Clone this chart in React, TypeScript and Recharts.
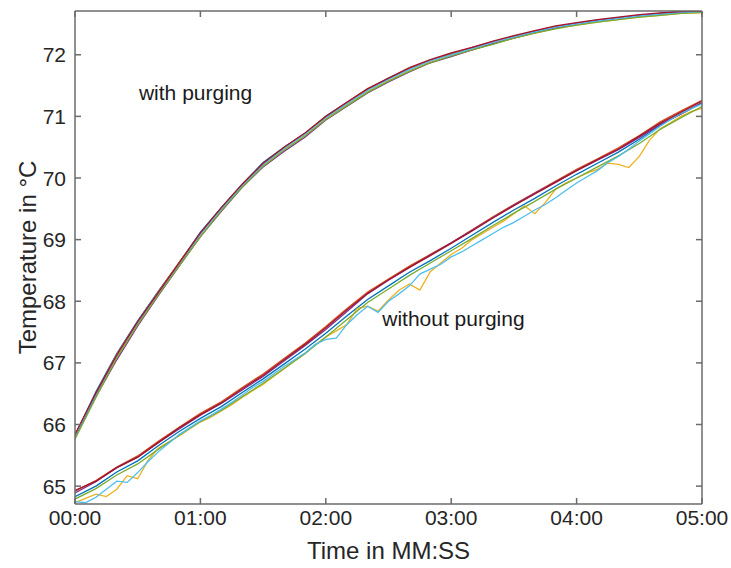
import { LineChart, Line, XAxis, YAxis, ReferenceDot, Label } from "recharts";

// time axis, seconds
const secs5 = [
  0, 5, 10, 15, 20, 25, 30, 35, 40, 45, 50, 55, 60, 65, 70, 75, 80, 85, 90, 95, 100,
  105, 110, 115, 120, 125, 130, 135, 140, 145, 150, 155, 160, 165, 170, 175, 180, 185, 190, 195, 200,
  205, 210, 215, 220, 225, 230, 235, 240, 245, 250, 255, 260, 265, 270, 275, 280, 285, 290, 295, 300,
];
const xTicks = [0, 60, 120, 180, 240, 300];
const yTicks = [65, 66, 67, 68, 69, 70, 71, 72];

// with purging, sampled every 10 s
const upBlue = [65.82, 66.53, 67.15, 67.68, 68.17, 68.63, 69.12, 69.52, 69.9, 70.25, 70.5, 70.72, 71.0, 71.22, 71.43, 71.62, 71.77, 71.91, 72.02, 72.11, 72.21, 72.3, 72.38, 72.45, 72.51, 72.56, 72.6, 72.63, 72.67, 72.7, 72.71];
const upOrange = [65.83, 66.5, 67.14, 67.66, 68.16, 68.64, 69.1, 69.51, 69.89, 70.23, 70.49, 70.72, 70.99, 71.21, 71.44, 71.61, 71.78, 71.91, 72.01, 72.12, 72.21, 72.3, 72.38, 72.46, 72.51, 72.56, 72.6, 72.64, 72.67, 72.7, 72.71];
const upYellow = [65.8, 66.47, 67.1, 67.63, 68.12, 68.6, 69.05, 69.47, 69.86, 70.2, 70.46, 70.68, 70.96, 71.18, 71.4, 71.58, 71.74, 71.88, 71.98, 72.08, 72.18, 72.27, 72.35, 72.43, 72.48, 72.53, 72.57, 72.61, 72.64, 72.67, 72.68];
const upPurple = [65.81, 66.45, 67.05, 67.6, 68.1, 68.58, 69.05, 69.46, 69.85, 70.18, 70.43, 70.66, 70.94, 71.16, 71.38, 71.56, 71.72, 71.87, 71.97, 72.08, 72.18, 72.27, 72.36, 72.44, 72.5, 72.55, 72.59, 72.63, 72.66, 72.69, 72.7];
const upGreen = [65.76, 66.44, 67.08, 67.62, 68.11, 68.58, 69.05, 69.47, 69.85, 70.19, 70.45, 70.68, 70.95, 71.17, 71.39, 71.57, 71.73, 71.87, 71.98, 72.08, 72.17, 72.27, 72.35, 72.42, 72.48, 72.53, 72.57, 72.61, 72.64, 72.67, 72.69];
const upLightBlue = [65.82, 66.49, 67.13, 67.66, 68.15, 68.62, 69.09, 69.5, 69.88, 70.22, 70.48, 70.71, 70.98, 71.2, 71.42, 71.6, 71.76, 71.9, 72.0, 72.1, 72.2, 72.29, 72.37, 72.45, 72.5, 72.55, 72.59, 72.63, 72.66, 72.69, 72.7];
const upRed = [65.84, 66.51, 67.13, 67.67, 68.15, 68.63, 69.11, 69.52, 69.9, 70.24, 70.5, 70.73, 71.0, 71.23, 71.45, 71.62, 71.79, 71.92, 72.03, 72.12, 72.22, 72.31, 72.39, 72.47, 72.52, 72.57, 72.61, 72.65, 72.68, 72.7, 72.71];

// without purging, sampled every 10 s
const loBlue = [64.83, 65.0, 65.23, 65.41, 65.66, 65.89, 66.1, 66.29, 66.52, 66.74, 66.98, 67.22, 67.48, 67.76, 68.03, 68.25, 68.47, 68.66, 68.86, 69.07, 69.28, 69.48, 69.67, 69.87, 70.06, 70.24, 70.42, 70.63, 70.86, 71.04, 71.22];
const loOrange = [64.92, 65.09, 65.31, 65.49, 65.73, 65.96, 66.18, 66.37, 66.6, 66.82, 67.07, 67.32, 67.59, 67.88, 68.15, 68.36, 68.57, 68.76, 68.95, 69.16, 69.37, 69.57, 69.76, 69.95, 70.14, 70.31, 70.49, 70.69, 70.91, 71.09, 71.26];
const loPurple = [64.89, 65.07, 65.3, 65.47, 65.71, 65.93, 66.15, 66.34, 66.56, 66.78, 67.03, 67.28, 67.54, 67.83, 68.12, 68.34, 68.55, 68.75, 68.95, 69.15, 69.36, 69.56, 69.75, 69.94, 70.12, 70.29, 70.46, 70.66, 70.87, 71.04, 71.22];
const loGreen = [64.79, 64.96, 65.18, 65.36, 65.6, 65.83, 66.05, 66.23, 66.45, 66.67, 66.91, 67.15, 67.42, 67.7, 67.98, 68.2, 68.42, 68.62, 68.82, 69.02, 69.23, 69.43, 69.62, 69.82, 70.0, 70.18, 70.36, 70.56, 70.79, 70.98, 71.16];
const loRed = [64.93, 65.08, 65.3, 65.47, 65.71, 65.95, 66.16, 66.35, 66.58, 66.8, 67.05, 67.3, 67.57, 67.86, 68.13, 68.35, 68.55, 68.74, 68.94, 69.14, 69.35, 69.55, 69.74, 69.93, 70.12, 70.3, 70.47, 70.68, 70.89, 71.07, 71.25];

// without purging, the two noisy runs, sampled every 5 s
const loYellow = [
  64.73, 64.8, 64.87, 64.83, 64.95, 65.17, 65.12, 65.42, 65.62, 65.72, 65.82, 65.93, 66.04, 66.12, 66.22, 66.32,
  66.44, 66.55, 66.65, 66.78, 66.9, 67.03, 67.15, 67.3, 67.42, 67.52, 67.62, 67.88, 67.92, 67.84, 68.02, 68.18,
  68.28, 68.18, 68.48, 68.62, 68.76, 68.86, 69.0, 69.1, 69.2, 69.3, 69.42, 69.55, 69.42, 69.6, 69.82, 69.92,
  70.0, 70.08, 70.14, 70.24, 70.22, 70.17, 70.35, 70.62, 70.8, 70.9, 71.0, 71.08, 71.13,
];
const loLightBlue = [
  64.75, 64.73, 64.82, 64.95, 65.08, 65.06, 65.22, 65.4, 65.56, 65.7, 65.84, 65.95, 66.06, 66.15, 66.25, 66.36,
  66.48, 66.6, 66.7, 66.82, 66.94, 67.05, 67.16, 67.3, 67.38, 67.4, 67.62, 67.78, 67.92, 67.82, 68.0, 68.12,
  68.25, 68.44, 68.52, 68.6, 68.72, 68.8, 68.9, 69.0, 69.1, 69.2, 69.28, 69.38, 69.48, 69.57, 69.68, 69.8,
  69.92, 70.02, 70.12, 70.25, 70.35, 70.47, 70.6, 70.72, 70.84, 70.95, 71.05, 71.13, 71.2,
];

const C = {
  blue: "#0072BD",
  orange: "#D95319",
  yellow: "#EDB120",
  purple: "#7E2F8E",
  green: "#77AC30",
  lightBlue: "#4DBEEE",
  red: "#A2142F",
};

const series10 = [
  { key: "up1", data: upBlue, color: C.blue },
  { key: "up2", data: upOrange, color: C.orange },
  { key: "up3", data: upYellow, color: C.yellow },
  { key: "up4", data: upPurple, color: C.purple },
  { key: "up5", data: upGreen, color: C.green },
  { key: "up6", data: upLightBlue, color: C.lightBlue },
  { key: "up7", data: upRed, color: C.red },
  { key: "lo1", data: loBlue, color: C.blue },
  { key: "lo2", data: loOrange, color: C.orange },
  { key: "lo4", data: loPurple, color: C.purple },
  { key: "lo5", data: loGreen, color: C.green },
  { key: "lo7", data: loRed, color: C.red },
];
const series5 = [
  { key: "lo3", data: loYellow, color: C.yellow },
  { key: "lo6", data: loLightBlue, color: C.lightBlue },
];

const rows = secs5.map((t, i) => {
  const row: Record<string, number | null> = { t };
  series10.forEach((s) => {
    row[s.key] = i % 2 === 0 ? s.data[i / 2] : null;
  });
  series5.forEach((s) => {
    row[s.key] = s.data[i];
  });
  return row;
});

// draw order as in the original plot
const drawOrder = ["up1", "up2", "up3", "up4", "up5", "up6", "up7", "lo1", "lo2", "lo3", "lo4", "lo5", "lo6", "lo7"];
const allSeries = [...series10, ...series5];

const mmss = (s: number) =>
  `${String(Math.floor(s / 60)).padStart(2, "0")}:${String(s % 60).padStart(2, "0")}`;

const AXIS = "#6b6b6b";
const INK = "#262626";
const TICK_LEN = 6;
const axisStroke = { stroke: AXIS, strokeWidth: 1.5 };
const yDomain = [64.71, 72.71];

/* ── ticks pointing into the plot, MATLAB style ─────────────── */
// bottom: y is the label top (axis line + tickMargin)
function BottomTick(p: any) {
  const axisY = p.y - 6;
  return (
    <g>
      <line x1={p.x} x2={p.x} y1={axisY} y2={axisY - TICK_LEN} stroke={AXIS} strokeWidth={1.5} />
      <text x={p.x} y={p.y} dy="0.72em" textAnchor="middle" fontSize={21} fill={INK}>
        {mmss(p.payload.value)}
      </text>
    </g>
  );
}

// left: x is the label's right end (axis line - tickMargin)
function LeftTick(p: any) {
  const axisX = p.x + 9;
  return (
    <g>
      <line x1={axisX} x2={axisX + TICK_LEN} y1={p.y} y2={p.y} stroke={AXIS} strokeWidth={1.5} />
      <text x={p.x} y={p.y} dy="0.36em" textAnchor="end" fontSize={21} fill={INK}>
        {p.payload.value}
      </text>
    </g>
  );
}

function TopTick(p: any) {
  return <line x1={p.x} x2={p.x} y1={p.y} y2={p.y + TICK_LEN} stroke={AXIS} strokeWidth={1.5} />;
}

function RightTick(p: any) {
  return <line x1={p.x} x2={p.x - TICK_LEN} y1={p.y} y2={p.y} stroke={AXIS} strokeWidth={1.5} />;
}

export default function App() {
  return (
    <div style={{ position: "absolute", left: 0, top: 0, background: "#fff" }}>
      <LineChart
        width={731}
        height={568}
        data={rows}
        margin={{ top: 10, right: 28, bottom: 6, left: 0 }}
        style={{ fontFamily: "'Liberation Sans', Arial, Helvetica, sans-serif" }}
      >
        <XAxis
          dataKey="t"
          type="number"
          domain={[0, 300]}
          ticks={xTicks}
          height={58}
          tickSize={0}
          tickMargin={6}
          axisLine={axisStroke}
          tickLine={false}
          tick={BottomTick}
          interval={0}
          allowDataOverflow
        >
          <Label value="Time in MM:SS" position="insideBottom" offset={3} fontSize={24} fill={INK} />
        </XAxis>
        <XAxis
          xAxisId="top"
          orientation="top"
          dataKey="t"
          type="number"
          domain={[0, 300]}
          ticks={xTicks}
          height={1}
          tickSize={0}
          tickMargin={0}
          axisLine={axisStroke}
          tickLine={false}
          tick={TopTick}
          interval={0}
          allowDataOverflow
        />
        <YAxis
          type="number"
          domain={yDomain}
          ticks={yTicks}
          width={75}
          tickSize={0}
          tickMargin={9}
          axisLine={axisStroke}
          tickLine={false}
          tick={LeftTick}
          interval={0}
          allowDataOverflow
        >
          <Label
            value="Temperature in °C"
            angle={-90}
            position="insideLeft"
            offset={27}
            fontSize={24}
            fill={INK}
            style={{ textAnchor: "middle" }}
          />
        </YAxis>
        <YAxis
          yAxisId="right"
          orientation="right"
          type="number"
          domain={yDomain}
          ticks={yTicks}
          width={1}
          tickSize={0}
          tickMargin={0}
          axisLine={axisStroke}
          tickLine={false}
          tick={RightTick}
          interval={0}
          allowDataOverflow
        />
        {/* invisible helper so the box axes (top/right) get their ticks */}
        <Line
          xAxisId="top"
          yAxisId="right"
          dataKey="lo3"
          stroke="none"
          dot={false}
          legendType="none"
          isAnimationActive={false}
        />
        {drawOrder.map((k) => {
          const s = allSeries.find((x) => x.key === k)!;
          return (
            <Line
              key={k}
              dataKey={k}
              type="linear"
              stroke={s.color}
              strokeWidth={1.3}
              dot={false}
              connectNulls
              isAnimationActive={false}
            />
          );
        })}
        <ReferenceDot
          x={30.6}
          y={71.38}
          r={0}
          fill="none"
          stroke="none"
          label={{ value: "with purging", position: "right", offset: 0, fontSize: 21, fill: "#1a1a1a" }}
        />
        <ReferenceDot
          x={147}
          y={67.72}
          r={0}
          fill="none"
          stroke="none"
          label={{ value: "without purging", position: "right", offset: 0, fontSize: 21, fill: "#1a1a1a" }}
        />
      </LineChart>
    </div>
  );
}
